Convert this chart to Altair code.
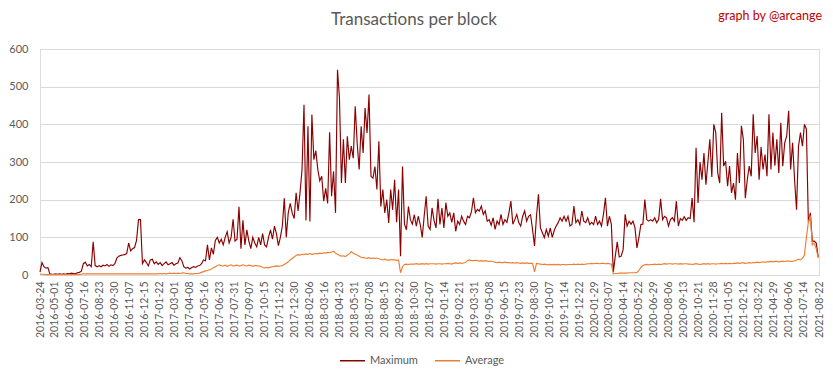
import altair as alt
import pandas as pd

start_date = "2016-03-24"
end_date = "2021-08-22"
step_days = 5

chart_title = "Transactions per block"
credit_text = "graph by @arcange"

maximum = [
    8, 33, 22, 18, 20, 3, 2, 2, 3, 2,
    3, 2, 3, 2, 4, 3, 5, 4, 3, 6,
    7, 10, 30, 34, 24, 28, 22, 88, 25, 22,
    25, 22, 26, 24, 28, 23, 27, 25, 30, 45,
    50, 52, 53, 54, 57, 85, 64, 70, 73, 92,
    147, 147, 30, 40, 33, 24, 40, 42, 30, 35,
    28, 33, 25, 30, 35, 27, 30, 33, 26, 30,
    32, 46, 38, 22, 18, 20, 16, 20, 22, 20,
    24, 25, 30, 40, 38, 80, 40, 72, 55, 92,
    100, 85, 95, 80, 100, 115, 85, 100, 148, 90,
    95, 181, 70, 145, 80, 120, 90, 70, 100, 85,
    75, 100, 80, 110, 80, 75, 100, 120, 95, 130,
    110, 78, 100, 130, 204, 100, 165, 190, 165, 150,
    218, 170, 220, 280, 452, 145, 395, 142, 426, 306,
    330, 280, 250, 262, 196, 230, 190, 379, 209, 275,
    165, 545, 470, 244, 360, 244, 368, 306, 342, 310,
    448, 350, 280, 395, 324, 443, 377, 479, 262, 257,
    288, 227, 355, 182, 227, 165, 200, 138, 227, 173,
    253, 140, 227, 50, 288, 135, 120, 182, 147, 135,
    160, 130, 156, 134, 100, 156, 209, 130, 121, 178,
    145, 125, 202, 134, 178, 125, 192, 156, 165, 140,
    165, 116, 143, 134, 156, 143, 134, 156, 152, 168,
    205, 165, 174, 170, 183, 161, 170, 143, 147, 132,
    152, 121, 143, 134, 161, 134, 147, 140, 165, 196,
    135, 147, 161, 139, 130, 156, 170, 143, 156, 160,
    121, 77, 156, 214, 125, 112, 99, 121, 103, 125,
    100, 118, 130, 139, 152, 143, 156, 143, 156, 130,
    134, 183, 139, 147, 134, 170, 143, 139, 152, 134,
    140, 134, 156, 134, 143, 130, 161, 205, 130, 156,
    135, 8, 50, 88, 48, 50, 68, 161, 130, 143,
    135, 143, 125, 72, 100, 134, 135, 200, 147, 143,
    147, 143, 152, 139, 147, 202, 147, 156, 152, 130,
    147, 152, 143, 196, 130, 150, 145, 155, 145, 152,
    150, 204, 140, 338, 191, 300, 253, 324, 240, 300,
    360, 260, 400, 378, 271, 244, 431, 289, 302, 236,
    289, 218, 244, 200, 324, 244, 396, 360, 204, 253,
    289, 262, 427, 324, 369, 253, 340, 280, 320, 262,
    427, 280, 378, 290, 360, 271, 404, 289, 351, 369,
    436, 280, 351, 253, 173, 342, 378, 342, 400, 387,
    140, 165, 90, 90, 85, 48,
]

average = [
    2, 2, 2, 1, 1, 1, 1, 1, 1, 1,
    1, 1, 1, 1, 1, 1, 1, 1, 1, 1,
    1, 2, 3, 3, 3, 3, 3, 3, 3, 3,
    3, 3, 3, 3, 3, 3, 3, 3, 3, 3,
    3, 3, 3, 3, 3, 3, 3, 3, 3, 3,
    3, 3, 3, 3, 3, 3, 3, 3, 3, 3,
    3, 4, 3, 4, 3, 4, 5, 4, 5, 4,
    5, 4, 5, 6, 4, 4, 3, 3, 3, 4,
    4, 5, 7, 9, 11, 12, 14, 16, 19, 22,
    25, 27, 25, 24, 26, 23, 25, 27, 24, 25,
    26, 24, 25, 27, 25, 24, 26, 25, 23, 25,
    25, 24, 23, 20, 19, 20, 19, 21, 22, 23,
    24, 23, 24, 25, 28, 31, 35, 40, 44, 48,
    52, 54, 53, 55, 54, 56, 55, 57, 55, 56,
    57, 56, 58, 57, 59, 58, 60, 59, 61, 63,
    58, 55, 52, 50, 51, 49, 53, 56, 62, 58,
    55, 53, 50, 47, 46, 45, 44, 46, 44, 45,
    44, 45, 43, 41, 40, 42, 40, 39, 41, 40,
    40, 39, 40, 6, 22, 28, 29, 28, 29, 29,
    29, 30, 29, 29, 30, 29, 30, 29, 30, 30,
    30, 29, 30, 30, 29, 30, 30, 31, 30, 29,
    31, 32, 31, 32, 31, 32, 33, 38, 40, 38,
    38, 39, 38, 37, 38, 37, 38, 37, 36, 37,
    35, 34, 33, 34, 33, 33, 34, 33, 33, 32,
    33, 32, 33, 32, 31, 32, 31, 32, 31, 31,
    31, 8, 31, 30, 29, 28, 29, 28, 27, 28,
    27, 28, 27, 28, 27, 28, 28, 27, 28, 28,
    28, 29, 28, 29, 28, 29, 28, 29, 30, 30,
    31, 30, 31, 31, 30, 31, 31, 30, 31, 30,
    29, 3, 4, 4, 5, 5, 5, 5, 5, 6,
    6, 6, 6, 7, 12, 20, 25, 27, 28, 27,
    28, 28, 29, 28, 29, 28, 29, 30, 29, 30,
    30, 29, 30, 30, 29, 30, 29, 30, 30, 29,
    29, 28, 29, 30, 29, 28, 29, 30, 29, 30,
    29, 30, 30, 29, 30, 30, 31, 30, 31, 30,
    31, 30, 31, 31, 32, 31, 32, 32, 31, 32,
    33, 32, 33, 33, 34, 33, 34, 35, 34, 35,
    35, 36, 35, 36, 36, 35, 36, 37, 36, 37,
    37, 36, 36, 38, 39, 42, 40, 44, 52, 100,
    140, 158, 80, 84, 70, 45,
]

tick_labels = [
    "2016-03-24", "2016-05-01", "2016-06-08", "2016-07-16", "2016-08-23",
    "2016-09-30", "2016-11-07", "2016-12-15", "2017-01-22", "2017-03-01",
    "2017-04-08", "2017-05-16", "2017-06-23", "2017-07-31", "2017-09-07",
    "2017-10-15", "2017-11-22", "2017-12-30", "2018-02-06", "2018-03-16",
    "2018-04-23", "2018-05-31", "2018-07-08", "2018-08-15", "2018-09-22",
    "2018-10-30", "2018-12-07", "2019-01-14", "2019-02-21", "2019-03-31",
    "2019-05-08", "2019-06-15", "2019-07-23", "2019-08-30", "2019-10-07",
    "2019-11-14", "2019-12-22", "2020-01-29", "2020-03-07", "2020-04-14",
    "2020-05-22", "2020-06-29", "2020-08-06", "2020-09-13", "2020-10-21",
    "2020-11-28", "2021-01-05", "2021-02-12", "2021-03-22", "2021-04-29",
    "2021-06-06", "2021-07-14", "2021-08-22",
]

series_names = ["Maximum", "Average"]
series_colors = ["#8B0000", "#ED7D31"]
y_ticks = [0, 100, 200, 300, 400, 500, 600]


def to_dt(s):
    return alt.DateTime(year=int(s[:4]), month=int(s[5:7]), date=int(s[8:10]), utc=True)


dates = pd.date_range(start_date, periods=len(maximum), freq=f"{step_days}D").strftime("%Y-%m-%d")
df = pd.concat([
    pd.DataFrame({"date": dates, "value": maximum, "series": series_names[0]}),
    pd.DataFrame({"date": dates, "value": average, "series": series_names[1]}),
], ignore_index=True)

FONT = "Lato"
GRAY = "#595959"

lines = alt.Chart(df).mark_line(strokeWidth=1.15, clip=False).encode(
    x=alt.X(
        "date:T",
        title=None,
        scale=alt.Scale(type="utc", domain=[to_dt(start_date), to_dt(end_date)]),
        axis=alt.Axis(
            values=[to_dt(s) for s in tick_labels],
            format="%Y-%m-%d",
            labelAngle=-90,
            labelOverlap=False,
            labelFlush=False,
            labelFont=FONT,
            labelFontSize=10.5,
            labelColor=GRAY,
            labelPadding=6,
            ticks=False,
            grid=False,
            domainColor="#D9D9D9",
            domainWidth=1,
        ),
    ),
    y=alt.Y(
        "value:Q",
        title=None,
        scale=alt.Scale(domain=[0, 600], nice=False),
        axis=alt.Axis(
            values=y_ticks,
            labelFont=FONT,
            labelFontSize=11,
            labelColor=GRAY,
            labelPadding=12,
            ticks=False,
            domain=False,
            gridColor="#D9D9D9",
            gridWidth=1,
        ),
    ),
    color=alt.Color(
        "series:N",
        sort=series_names,
        scale=alt.Scale(domain=series_names, range=series_colors),
        legend=alt.Legend(
            title=None,
            orient="none",
            legendX=299,
            legendY=298,
            direction="horizontal",
            symbolType="stroke",
            symbolSize=625,
            symbolStrokeWidth=1.5,
            labelFont=FONT,
            labelFontSize=11,
            labelColor=GRAY,
            labelOffset=4,
            columnPadding=14,
        ),
    ),
    detail="series:N",
)

title_mark = alt.Chart(pd.DataFrame({"t": [chart_title]})).mark_text(
    align="center", baseline="middle", color=GRAY, font=FONT, fontSize=17
).encode(x=alt.value(374), y=alt.value(-29), text="t:N")

credit = alt.Chart(pd.DataFrame({"t": [credit_text]})).mark_text(
    align="right", baseline="middle", color="#C00000", font=FONT, fontSize=12.5
).encode(x=alt.value(782), y=alt.value(-33), text="t:N")

chart = alt.layer(lines, title_mark, credit).properties(
    width=779,
    height=226,
    padding={"left": 32, "top": 41, "right": 6, "bottom": 96},
    autosize="none",
).configure_view(strokeWidth=0).configure(background="white")

chart.save("out.html", embed_options={"renderer": "svg", "actions": False})
